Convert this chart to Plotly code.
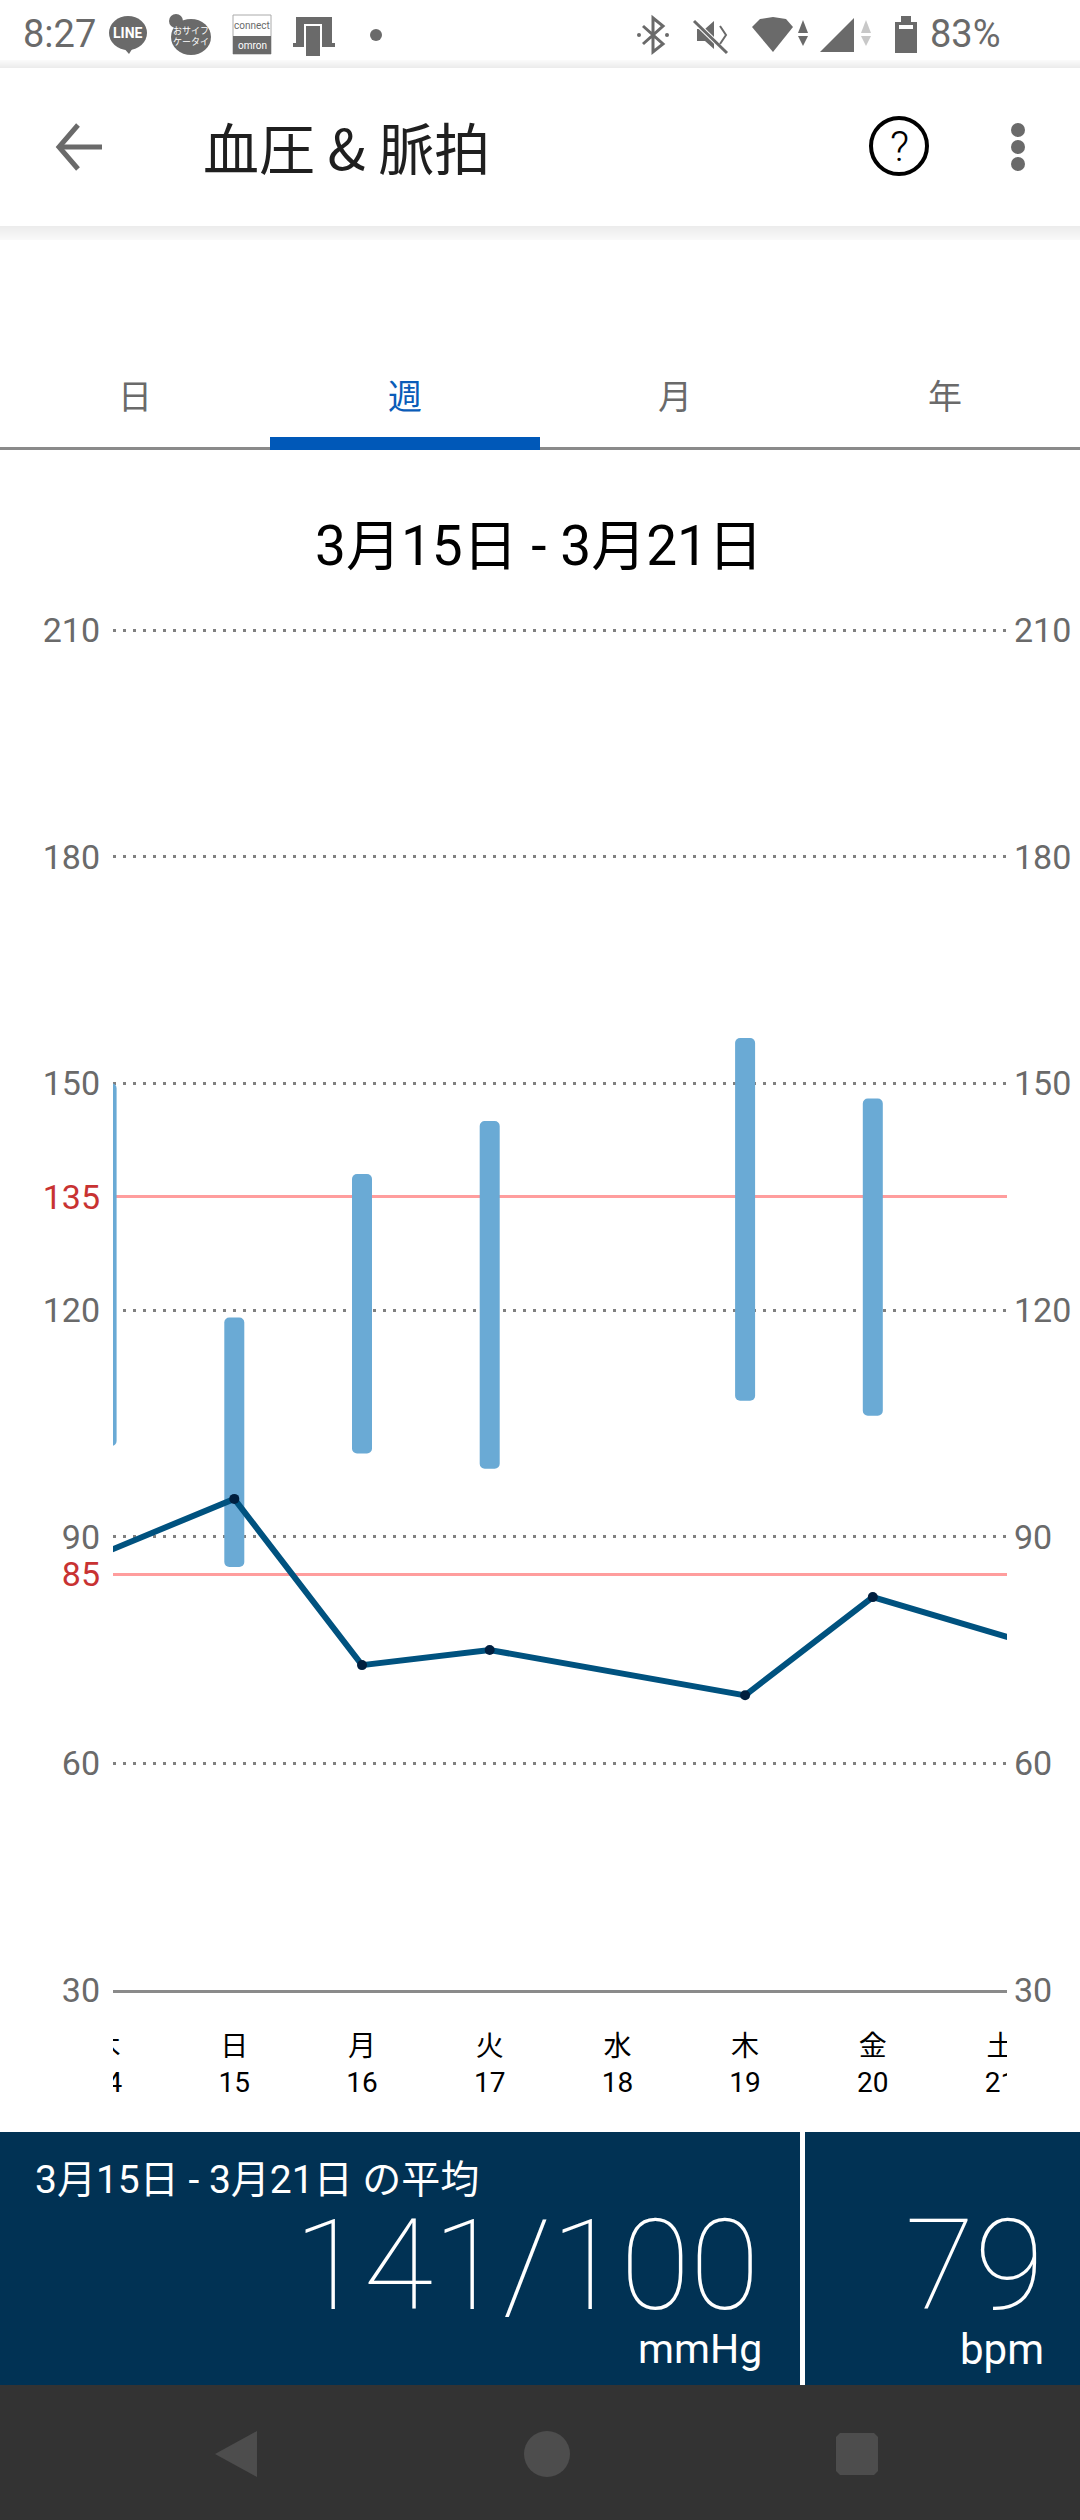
import plotly.graph_objects as go

W = 1080
H = 2520

# values
days = [14, 15, 16, 17, 18, 19, 20, 21]
weekdays = ["木", "日", "月", "火", "水", "木", "金", "土"]
day_labels = ["14", "15", "16", "17", "18", "19", "20", "21"]
systolic = [150, 119, 138, 145, None, 156, 148, None]
diastolic = [102, 86, 101, 99, None, 108, 106, None]
pulse_days = [14, 15, 16, 17, 19, 20, 22]
pulse = [88, 95, 73, 75, 69, 82, 72]
grid_ticks = [30, 60, 90, 120, 150, 180, 210]
limit_ticks = [85, 135]

tabs = ["日", "週", "月", "年"]
period = "3月15日 - 3月21日"

UI_FONT = "Noto Sans CJK JP"
NUM_FONT = "Roboto"
MIX_FONT = f"{NUM_FONT}, {UI_FONT}"
GRAY = "#6a6a6a"
NAVY = "#013254"
PANEL_GRAY = "#333333"
ICON = "#4d4d4d"

# one day is 127.7 px, day 15 sits at 234.3 px
DAY_PX = 127.7


def day_at(px):
    return 15 + (px - 234.3) / DAY_PX


def fy(py):
    return 1 - py / H


shapes = []
annotations = []


def rect(x0, y0, x1, y1, color, layer="below", line=None):
    shapes.append(dict(type="rect", xref="paper", yref="paper", x0=x0 / W, x1=x1 / W,
                       y0=fy(y0), y1=fy(y1), fillcolor=color, layer=layer,
                       line=line or dict(width=0)))


def circle(cx, cy, rx, ry, color, outline=None, layer="above"):
    shapes.append(dict(type="circle", xref="paper", yref="paper", x0=(cx - rx) / W, x1=(cx + rx) / W,
                       y0=fy(cy - ry), y1=fy(cy + ry), fillcolor=color, layer=layer,
                       line=outline or dict(width=0)))


def poly(points, color=None, stroke=None, width=0, closed=True):
    d = ""
    for i, (x, y) in enumerate(points):
        d += ("M" if i == 0 else "L") + f"{x / W:.5f},{fy(y):.5f} "
    if closed:
        d += "Z"
    shapes.append(dict(type="path", xref="paper", yref="paper", path=d, layer="above",
                       fillcolor=color if color else "rgba(0,0,0,0)",
                       line=dict(color=stroke, width=width) if stroke else dict(width=0)))


def text(x, y, s, size, color, anchor="center", family=UI_FONT, weight=None):
    font = dict(size=size, color=color, family=family)
    if weight:
        font["weight"] = weight
    annotations.append(dict(xref="paper", yref="paper", x=x / W, y=fy(y), text=s, showarrow=False,
                            xanchor=anchor, yanchor="middle", font=font, borderpad=0))


# status bar
for i in range(8):
    rect(0, 60 + i, W, 61 + i, f"rgb({250 - i * 2},{250 - i * 2},{250 - i * 2})")
for i in range(14):
    rect(0, 226 + i, W, 227 + i, f"rgb({236 + i},{236 + i},{236 + i})")

text(22, 34, "8:27", 38, GRAY, "left", NUM_FONT)
circle(128, 33, 19, 17, GRAY)
poly([(122, 46), (134, 46), (129, 54)], GRAY)
text(128, 33, "LINE", 14, "white", family=NUM_FONT, weight=700)
circle(191, 37, 20, 18, GRAY)
circle(176, 21, 7, 7, GRAY)
text(191, 31, "おサイフ", 9, "white")
text(191, 41, "ケータイ", 9, "white")
rect(233, 15, 271, 54, "white", "above", dict(color="#aaaaaa", width=1))
rect(233, 36, 271, 54, GRAY, "above")
text(252, 26, "connect", 10, GRAY, family=NUM_FONT)
text(252, 45, "omron", 10, "white", family=NUM_FONT)
rect(296, 17, 332, 46, GRAY, "above")
rect(293, 43, 335, 47, GRAY, "above")
rect(304, 24, 322, 56, "white", "above")
rect(306, 26, 320, 56, GRAY, "above")
circle(376, 35, 6, 6, GRAY)

poly([(643, 26), (663, 44), (653, 52), (653, 18), (663, 26), (643, 44)], None, GRAY, 3, closed=False)
circle(639, 35, 2, 2, GRAY)
circle(667, 35, 2, 2, GRAY)
poly([(697, 29), (705, 29), (714, 21), (714, 49), (705, 41), (697, 41)], GRAY)
poly([(694, 21), (727, 53)], None, "white", 5, closed=False)
poly([(694, 21), (727, 53)], None, GRAY, 3, closed=False)
poly([(720, 26), (726, 35), (720, 44)], None, GRAY, 2, closed=False)
poly([(752, 27), (760, 19), (773, 17), (786, 19), (793, 27), (773, 52)], GRAY)
poly([(798, 33), (803, 20), (808, 33)], GRAY)
poly([(798, 36), (803, 46), (808, 36)], GRAY)
poly([(820, 52), (854, 18), (854, 52)], GRAY)
poly([(861, 33), (866, 20), (871, 33)], "#c8c8c8")
poly([(861, 36), (866, 46), (871, 36)], "#c8c8c8")
rect(895, 22, 917, 53, GRAY, "above")
rect(901, 16, 911, 23, GRAY, "above")
rect(899, 25, 913, 29, "white", "above")
text(929, 34, "83%", 38, GRAY, "left", NUM_FONT)

# header
poly([(78, 125), (59, 147), (78, 169)], None, GRAY, 5, closed=False)
poly([(59, 147), (102, 147)], None, GRAY, 5, closed=False)
text(346, 145, "血圧 &amp; 脈拍", 56, "#1f1f1f")
circle(899, 146, 28, 28, "white", dict(color="black", width=4))
text(899, 146, "?", 42, "black", family=NUM_FONT, weight=300)
for dot_y in [130, 147, 164]:
    circle(1018, dot_y, 7, 7, GRAY)

# tabs
rect(0, 447, W, 450, "#8a8a8a")
rect(270, 437, 540, 450, "#0058b8")
for i, tab in enumerate(tabs):
    text(135 + i * 270, 394, tab, 34, "#0a5cb8" if i == 1 else GRAY)

text(539, 546, period, 55, "black", family=MIX_FONT)

# bottom panel
rect(0, 2132, 800, 2385, NAVY)
rect(805, 2132, W, 2385, NAVY)
rect(0, 2385, W, H, PANEL_GRAY)
text(34, 2180, period + " の平均", 39, "white", "left", MIX_FONT)
text(761, 2265, "141/100", 127, "white", "right", NUM_FONT, 100)
text(1045, 2265, "79", 127, "white", "right", NUM_FONT, 100)
text(763, 2349, "mmHg", 41, "white", "right", NUM_FONT)
text(1045, 2349, "bpm", 42, "white", "right", NUM_FONT)
poly([(257, 2431), (215, 2454), (257, 2477)], ICON)
circle(547, 2454, 23, 23, ICON)
poly([(840, 2433), (874, 2433), (878, 2437), (878, 2471), (874, 2475), (840, 2475), (836, 2471), (836, 2437)], ICON)

# hides the cut off day labels at both ends
rect(0, 2020, 113, 2110, "white", "above")
rect(1007, 2020, W, 2110, "white", "above")

bar_height = [None if s is None else s - d for s, d in zip(systolic, diastolic)]

fig = go.Figure()
fig.add_trace(go.Bar(x=days, y=bar_height, base=diastolic, width=20 / DAY_PX,
                     marker=dict(color="#6aaad5", line=dict(width=0)), showlegend=False))
fig.add_trace(go.Scatter(x=pulse_days, y=pulse, mode="lines+markers",
                         line=dict(color="#00527f", width=6),
                         marker=dict(color="#001f3f", size=10), showlegend=False))
# empty traces so the extra axes get drawn
fig.add_trace(go.Scatter(x=days, y=[None] * len(days), yaxis="y2", showlegend=False))
fig.add_trace(go.Scatter(x=days, y=[None] * len(days), yaxis="y3", showlegend=False))
fig.add_trace(go.Scatter(x=days, y=[None] * len(days), xaxis="x2", yaxis="y4", showlegend=False))

# range runs one unit past 210, plotly drops a gridline sitting right on the edge
y_range = [30, 211]
y_domain = [fy(1990), fy(630 - 1360 / 180)]
fig.update_layout(
    width=W, height=H, margin=dict(l=0, r=0, t=0, b=0),
    paper_bgcolor="white", plot_bgcolor="white",
    barcornerradius=5,
    shapes=shapes, annotations=annotations,
    xaxis=dict(domain=[113 / W, 1007 / W], range=[day_at(113), day_at(1007)], showgrid=False,
               showticklabels=False, ticks="", zeroline=False, showline=True, automargin=False,
               linecolor="#8a8a8a", linewidth=3, anchor="y"),
    # day labels live on their own thin subplot so they can run past the plot edges
    xaxis2=dict(domain=[60 / W, 1060 / W], range=[day_at(60), day_at(1060)], anchor="y4",
                side="bottom", showgrid=False, zeroline=False, ticks="", automargin=False,
                tickmode="array", tickvals=days,
                ticktext=[f"{w}<br>{d}" for w, d in zip(weekdays, day_labels)],
                tickfont=dict(size=28, color="black", family=MIX_FONT), tickangle=0),
    yaxis4=dict(domain=[fy(2027), fy(2022)], anchor="x2", visible=False, automargin=False),
    yaxis=dict(domain=y_domain, range=y_range, tickmode="array", tickvals=grid_ticks,
               ticks="", zeroline=False, showline=False, anchor="x", automargin=False,
               gridcolor="#808080", gridwidth=3, griddash="3px,7px", ticklabelstandoff=12,
               tickfont=dict(size=34, color=GRAY, family=NUM_FONT)),
    yaxis2=dict(domain=y_domain, range=y_range, overlaying="y", tickmode="array", tickvals=limit_ticks,
                ticks="", zeroline=False, showline=False, anchor="x", side="left", automargin=False,
                gridcolor="#ff9d9d", gridwidth=3, griddash="solid", ticklabelstandoff=12,
                tickfont=dict(size=34, color="#c83232", family=NUM_FONT)),
    yaxis3=dict(domain=y_domain, range=y_range, overlaying="y", tickmode="array", tickvals=grid_ticks,
                ticks="", zeroline=False, showline=False, anchor="x", side="right", showgrid=False,
                automargin=False, ticklabelstandoff=6,
                tickfont=dict(size=34, color=GRAY, family=NUM_FONT)),
)

fig.write_html("out.html", config=dict(displayModeBar=False),
               post_script="document.body.style.margin='0';")
